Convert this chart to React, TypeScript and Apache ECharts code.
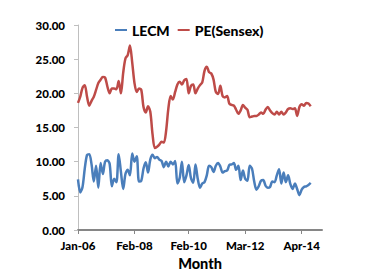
import React, { useEffect, useRef } from "react";
import * as echarts from "echarts";

const monthNames = ["Jan", "Feb", "Mar", "Apr", "May", "Jun", "Jul", "Aug", "Sep", "Oct", "Nov", "Dec"];
const startYear = 2006;
const monthCount = 109; // Jan-06 .. Jan-15 (axis length)
const categories: string[] = [];
for (let i = 0; i < monthCount; i++) {
  const y = startYear + Math.floor(i / 12);
  categories.push(`${monthNames[i % 12]}-${String(y % 100).padStart(2, "0")}`);
}

const xTickLabels = ["Jan-06", "Feb-08", "Feb-10", "Mar-12", "Apr-14"];

const lecm = [
  7.4, 5.5, 6.3, 9.0, 11.0, 11.1, 9.6, 7.1, 9.4, 6.2,
  9.8, 8.2, 10.0, 10.2, 9.7, 6.4, 7.5, 7.0, 11.1, 8.5,
  6.0, 8.2, 8.8, 8.0, 11.2, 10.0, 10.8, 7.1, 7.2, 9.0,
  9.9, 8.4, 10.3, 11.0, 10.5, 10.7, 10.3, 10.1, 9.2, 10.0,
  9.3, 10.0, 9.6, 10.1, 6.8, 7.6, 10.0, 7.0, 8.0, 9.5,
  7.6, 6.9, 9.6, 7.5, 6.2, 6.8, 7.0, 8.0, 9.4, 9.2,
  8.5, 9.4, 9.8, 9.3, 8.4, 8.6, 8.7, 9.5, 9.6, 9.8,
  8.8, 9.4, 7.3, 8.7, 7.5, 7.2, 9.4, 9.0, 7.1, 5.9,
  6.4, 7.2, 7.3, 6.5, 6.2, 6.3, 7.1, 7.0, 8.0, 8.9,
  6.8, 8.4, 7.0, 8.0, 6.7, 6.0, 6.8, 6.0, 5.1, 5.9,
  6.3, 6.4, 6.6, 6.9,
];

const peSensex = [
  18.6, 19.5, 20.8, 21.2, 19.5, 18.2, 18.9, 19.5, 20.5, 21.5,
  22.0, 22.4, 22.3, 21.0, 20.0, 20.7, 20.7, 20.6, 21.8, 20.0,
  23.0, 25.1, 25.6, 27.0, 24.5, 21.5, 20.2, 20.7, 20.5, 18.0,
  17.2, 18.1, 17.3, 14.0, 12.0, 12.2, 12.5, 12.9, 12.8, 14.5,
  17.8, 19.6, 19.1, 20.2, 21.3, 21.7, 21.3, 21.9, 22.1, 20.0,
  21.1, 21.3, 20.0, 20.7, 21.2, 21.6, 23.3, 23.9, 23.1, 22.9,
  22.0, 20.2, 19.9, 21.1, 19.6, 19.4, 19.6, 18.5, 18.3, 18.2,
  17.6, 17.0, 17.5, 18.3, 17.9, 17.6, 16.5, 16.6, 16.7, 16.7,
  16.9, 17.2, 17.0, 17.6, 18.0, 17.5, 17.1, 16.9, 17.3, 16.9,
  17.3, 16.9, 17.2, 17.7, 17.8, 17.7, 17.8, 16.7, 18.0, 18.4,
  18.2, 18.6, 18.5, 18.1,
];

const FONT = "Lato, 'Liberation Sans', sans-serif";

export default function App() {
  const ref = useRef<HTMLDivElement>(null);
  useEffect(() => {
    if (!ref.current) return;
    const chart = echarts.init(ref.current, null, { renderer: "svg" });
    const showIdx = (index: number) => xTickLabels.includes(categories[index]);
    chart.setOption({
      animation: false,
      backgroundColor: "#ffffff",
      legend: {
        left: 110,
        top: 18,
        itemGap: 8,
        itemWidth: 12,
        itemHeight: 2,
        icon: "rect",
        textStyle: { fontFamily: FONT, fontWeight: 900, fontSize: 14, color: "#000" },
        data: ["LECM", "PE(Sensex)"],
      },
      grid: { left: 78, right: 52, top: 25, bottom: 50, containLabel: false },
      xAxis: {
        type: "category",
        data: categories,
        boundaryGap: false,
        name: "Month",
        nameLocation: "middle",
        nameGap: 23,
        nameTextStyle: { fontFamily: FONT, fontWeight: 900, fontSize: 14.5, color: "#000" },
        axisLine: { lineStyle: { color: "#868686", width: 2 } },
        axisTick: { show: true, interval: showIdx, length: 4, lineStyle: { color: "#868686" } },
        axisLabel: {
          interval: showIdx,
          margin: 9,
          fontFamily: FONT,
          fontWeight: 900,
          fontSize: 11.5,
          color: "#000",
        },
        splitLine: { show: false },
      },
      yAxis: {
        type: "value",
        min: 0,
        max: 30,
        interval: 5,
        axisLine: { show: true, lineStyle: { color: "#bfbfbf", width: 1 } },
        axisTick: { show: true, length: 4, lineStyle: { color: "#bfbfbf" } },
        axisLabel: {
          margin: 13,
          fontFamily: FONT,
          fontWeight: 900,
          fontSize: 11.5,
          color: "#000",
          formatter: (v: number) => v.toFixed(2),
        },
        splitLine: { show: false },
      },
      series: [
        {
          name: "LECM",
          type: "line",
          data: lecm,
          smooth: 0.3,
          symbol: "none",
          lineStyle: { color: "#4A7EBB", width: 2.5 },
          itemStyle: { color: "#4A7EBB" },
        },
        {
          name: "PE(Sensex)",
          type: "line",
          data: peSensex,
          smooth: 0.3,
          symbol: "none",
          lineStyle: { color: "#BE4B48", width: 2.5 },
          itemStyle: { color: "#BE4B48" },
        },
      ],
    });
    return () => chart.dispose();
  }, []);
  return <div ref={ref} style={{ width: 374, height: 280, position: "absolute", left: 0, top: 0 }} />;
}
